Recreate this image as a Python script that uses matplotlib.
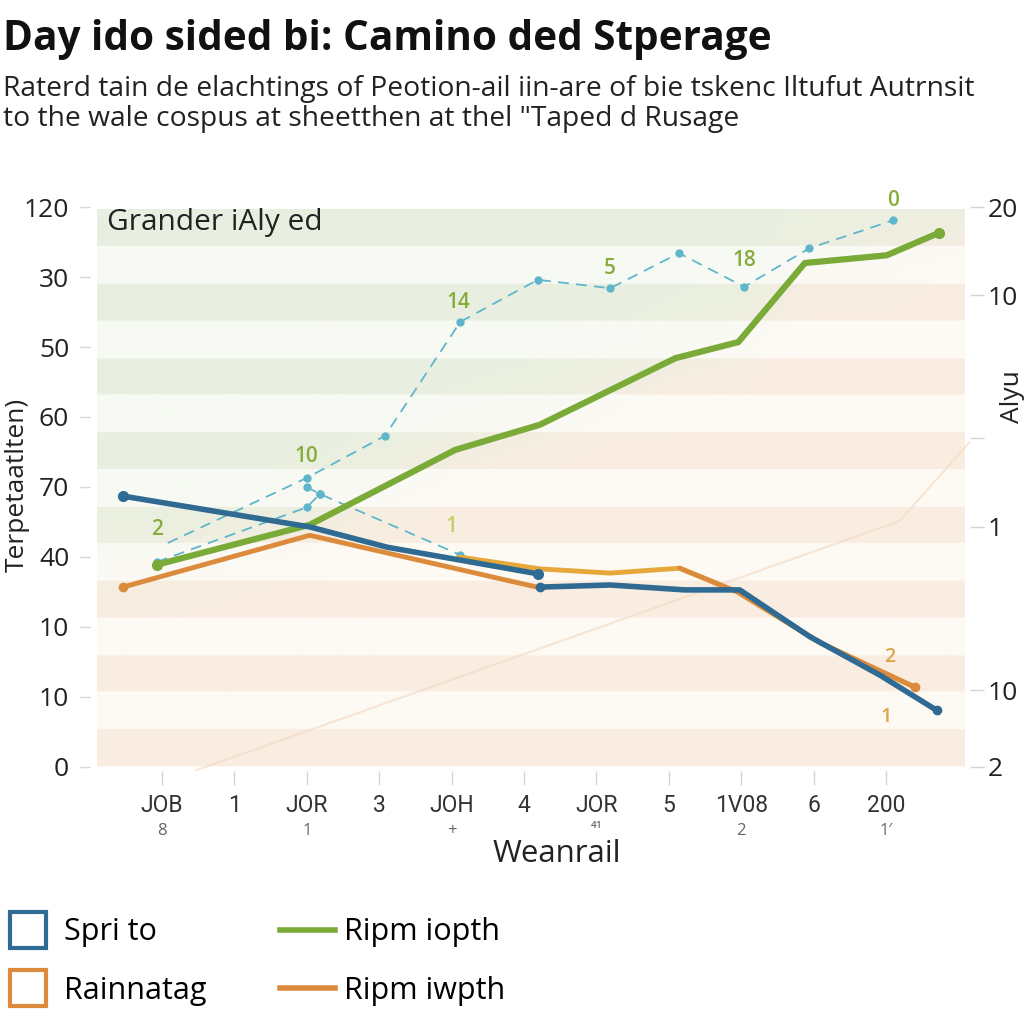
import numpy as np
import matplotlib
matplotlib.use("Agg")
import matplotlib.pyplot as plt
from matplotlib.lines import Line2D

plt.rcParams['font.family'] = ['Open Sans', 'Noto Sans', 'DejaVu Sans']

# ---------------- data ----------------
title = "Day ido sided bi: Camino ded Stperage"
subtitle = ("Raterd tain de elachtings of Peotion-ail iin-are of bie tskenc Iltufut Autrnsit\n"
            "to the wale cospus at sheetthen at thel \"Taped d Rusage")
inner_label = "Grander iAly ed"
xlabel = "Weanrail"
ylabel_left = "Terpetaatlten)"
ylabel_right = "Alyu"

x_ticks = [0, 1, 2, 3, 4, 5, 6, 7, 8, 9, 10]
x_labels = ["JOB", "1", "JOR", "3", "JOH", "4", "JOR", "5", "1V08", "6", "200"]
x_sublabels = ["8", "", "1", "", "+", "", "\u2074\u00b9", "", "2", "", "1\u2032"]

y_ticks_left = [0, 1, 2, 3, 4, 5, 6, 7, 8]
y_labels_left = ["0", "10", "10", "40", "70", "60", "50", "30", "120"]
y_ticks_right = [0, 1.1, 3.43, 4.7, 6.74, 8]
y_labels_right = ["2", "10", "1", "", "10", "20"]

# blue series (two segments)
blue1_x = [-0.54, 2.04, 3.11, 5.19]
blue1_y = [3.87, 3.43, 3.14, 2.76]
blue2_x = [5.22, 6.19, 7.22, 7.98, 8.95, 9.92, 10.7]
blue2_y = [2.57, 2.60, 2.53, 2.53, 1.86, 1.31, 0.81]

# orange series
orange_x = [-0.54, 2.04, 5.22]
orange_y = [2.57, 3.31, 2.56]
# amber series
amber_x = [4.11, 5.22, 6.19, 7.15, 7.95, 9.10, 10.4]
amber_y = [3.00, 2.83, 2.77, 2.84, 2.50, 1.77, 1.14]

# green series
green_x = [-0.07, 2.04, 4.05, 5.22, 7.09, 7.96, 8.88, 10.01, 10.73]
green_y = [2.89, 3.46, 4.53, 4.89, 5.84, 6.07, 7.20, 7.31, 7.63]

# cyan dashed series
cyanA_x = [0.08, 2.00, 3.08, 4.12, 5.19, 6.19, 7.14, 8.04, 8.94, 10.1]
cyanA_y = [3.20, 4.13, 4.73, 6.36, 6.96, 6.84, 7.34, 6.86, 7.41, 7.81]
cyanB_x = [-0.07, 2.00, 2.18, 4.12]
cyanB_y = [2.93, 3.71, 3.90, 3.03]
cyanC_x = [2.00, 2.18]
cyanC_y = [4.00, 3.90]

# value annotations
green_ann_x = [-0.07, 2.0, 4.1, 4.0, 6.19, 8.04, 10.1]
green_ann_y = [3.39, 4.43, 6.63, 3.43, 7.12, 7.23, 8.1]
green_ann_t = ["2", "10", "14", "1", "5", "18", "0"]
orange_ann_x = [10.05, 10.0]
orange_ann_y = [1.57, 0.71]
orange_ann_t = ["2", "1"]

legend_labels = ["Spri to", "Rainnatag", "Ripm iopth", "Ripm iwpth"]

# ---------------- colors ----------------
BLUE = "#2f6a92"
ORANGE = "#dc8a3c"
AMBER = "#e6a83a"
GREEN = "#7aaa38"
CYAN = "#5fb6cb"
ANN_GREEN = "#86ad3c"
ANN_ORANGE = "#e0a24a"

fig = plt.figure(figsize=(10.24, 10.24), dpi=100)
fig.patch.set_facecolor("white")

# axes in pixel geometry
L, R, B, T = 90, 970, 770.5, 203.5
ax = fig.add_axes([L / 1024, 1 - B / 1024, (R - L) / 1024, (B - T) / 1024])
xmin, xmax = (L - 162) / 72.4, (R - 162) / 72.4
ax.set_xlim(xmin, xmax)
ax.set_ylim(-0.05, 8.05)

# ---------------- background ----------------
bx0, bx1 = (97 - 162) / 72.4, (965 - 162) / 72.4
by0, by1 = 0.0, 7.97
nx, ny = 500, 560
xs = np.linspace(bx0, bx1, nx)
ys = np.linspace(by1, by0, ny)
XX, YY = np.meshgrid(xs, ys)
gline = np.interp(XX, green_x, green_y)
w = 1 / (1 + np.exp(-(YY - gline) / 0.35))  # 1 -> green side
band_green = np.array([233, 240, 225]) / 255
band_peach = np.array([250, 236, 224]) / 255
base_green = np.array([247, 249, 243]) / 255
base_peach = np.array([254, 249, 244]) / 255
tops = [7.97 - 1.063 * k for k in range(8)]
inband = np.zeros_like(YY, dtype=bool)
for tp in tops:
    inband |= (YY <= tp) & (YY >= tp - 0.52)
img = np.zeros((ny, nx, 3))
for c in range(3):
    g = np.where(inband, band_green[c], base_green[c])
    p = np.where(inband, band_peach[c], base_peach[c])
    img[..., c] = w * g + (1 - w) * p
ax.imshow(img, extent=[bx0, bx1, by0, by1], aspect="auto", zorder=0,
          interpolation="bilinear")
# faint decorative diagonal
ax.plot([0.12, 0.92, 1.0], [0.0, 0.44, 0.58], transform=ax.transAxes,
        color="#f3d9c0", lw=1.5, alpha=0.6, zorder=1)

# ---------------- series ----------------
ax.plot(cyanA_x, cyanA_y, color=CYAN, lw=1.3, ls=(0, (6, 4)), marker="o",
        ms=5, markevery=list(range(1, len(cyanA_x))), zorder=3)
ax.plot(cyanB_x, cyanB_y, color=CYAN, lw=1.3, ls=(0, (6, 4)), marker="o",
        ms=5, zorder=3)
ax.plot(cyanC_x, cyanC_y, color=CYAN, lw=1.3, ls=(0, (6, 4)), marker="o",
        ms=5, zorder=3)

ax.plot(orange_x, orange_y, color=ORANGE, lw=3.5, zorder=4,
        marker="o", ms=6, markevery=[0], solid_capstyle="round")
ax.plot(amber_x, amber_y, color=AMBER, lw=3.5, zorder=4, solid_capstyle="round")
ax.plot(amber_x[3:], amber_y[3:], color=ORANGE, lw=3.5, zorder=4,
        marker="o", ms=6, markevery=[-1], solid_capstyle="round")
ax.plot(green_x, green_y, color=GREEN, lw=4.5, zorder=5, marker="o", ms=7,
        markevery=[0, len(green_x) - 1], solid_capstyle="round")
ax.plot(blue1_x, blue1_y, color=BLUE, lw=4, zorder=6, marker="o", ms=7,
        markevery=[0, len(blue1_x) - 1], solid_capstyle="round")
ax.plot(blue2_x, blue2_y, color=BLUE, lw=4, zorder=6, marker="o", ms=6,
        markevery=[0, len(blue2_x) - 1], solid_capstyle="round")

for xv, yv, t in zip(green_ann_x, green_ann_y, green_ann_t):
    col = "#c9cf6a" if t == "1" else ANN_GREEN
    ax.text(xv, yv, t, color=col, fontsize=15, ha="center", va="center",
            fontweight="semibold", zorder=7)
for xv, yv, t in zip(orange_ann_x, orange_ann_y, orange_ann_t):
    ax.text(xv, yv, t, color=ANN_ORANGE, fontsize=14, ha="center", va="center",
            fontweight="semibold", zorder=7)

ax.text((107 - 162) / 72.4, 7.78, inner_label, fontsize=21.5, color="#222222",
        ha="left", va="center", zorder=7)

# ---------------- axes styling ----------------
for s in ax.spines.values():
    s.set_visible(False)
ax.set_xticks(x_ticks)
ax.set_xticklabels(x_labels, fontsize=16.5, color="#333333",
                   fontfamily=["Roboto", "DejaVu Sans"])
ax.tick_params(axis="x", length=10, color="#d5d5d5", width=1, pad=7)
ax.set_yticks(y_ticks_left)
ax.set_yticklabels(y_labels_left, fontsize=19, color="#222222")
ax.tick_params(axis="y", length=7, color="#d5d5d5", width=1, pad=8)
for xv, t in zip(x_ticks, x_sublabels):
    if t:
        ax.text(xv, -0.92, t, fontsize=12, color="#666666", ha="center",
                va="center")
ax.set_xlabel(xlabel, fontsize=22.5, color="#222222")
ax.xaxis.set_label_coords((557 - L) / (R - L), -(854 - B) / (B - T))
ax.xaxis.label.set_va("center")

ax2 = ax.twinx()
ax2.set_ylim(ax.get_ylim())
for s in ax2.spines.values():
    s.set_visible(False)
ax2.set_yticks(y_ticks_right)
ax2.set_yticklabels(y_labels_right, fontsize=19, color="#222222")
ax2.tick_params(axis="y", length=10, color="#d5d5d5", width=1, pad=3)

fig.text(17 / 1024, 1 - 485 / 1024, ylabel_left, rotation=90, fontsize=19,
         color="#222222", ha="center", va="center")
fig.text(1000 / 1024, 1 - 397 / 1024, ylabel_right, rotation=90, fontsize=19,
         color="#222222", ha="left", va="center")

# ---------------- titles ----------------
fig.text(3 / 1024, 1 - 40 / 1024, title, fontsize=29.2, fontweight="bold",
         color="#111111", ha="left", va="center")
fig.text(3 / 1024, 1 - 104 / 1024, subtitle, fontsize=20.3, color="#222222",
         ha="left", va="center", linespacing=1.12)

# ---------------- legend ----------------
handles = [
    Line2D([], [], ls="none", marker="s", ms=26, mfc="white", mec=BLUE, mew=3),
    Line2D([], [], ls="none", marker="s", ms=26, mfc="white", mec=ORANGE, mew=3),
    Line2D([], [], color=GREEN, lw=4),
    Line2D([], [], color=ORANGE, lw=4),
]
leg = fig.legend(handles, legend_labels, loc="lower left",
                 bbox_to_anchor=(0.0, 0.018), ncol=2, frameon=False,
                 fontsize=22, handlelength=1.8, handletextpad=0.3,
                 columnspacing=2.4, labelspacing=0.92, borderpad=0,
                 borderaxespad=0)

fig.savefig("out.png", dpi=100)
